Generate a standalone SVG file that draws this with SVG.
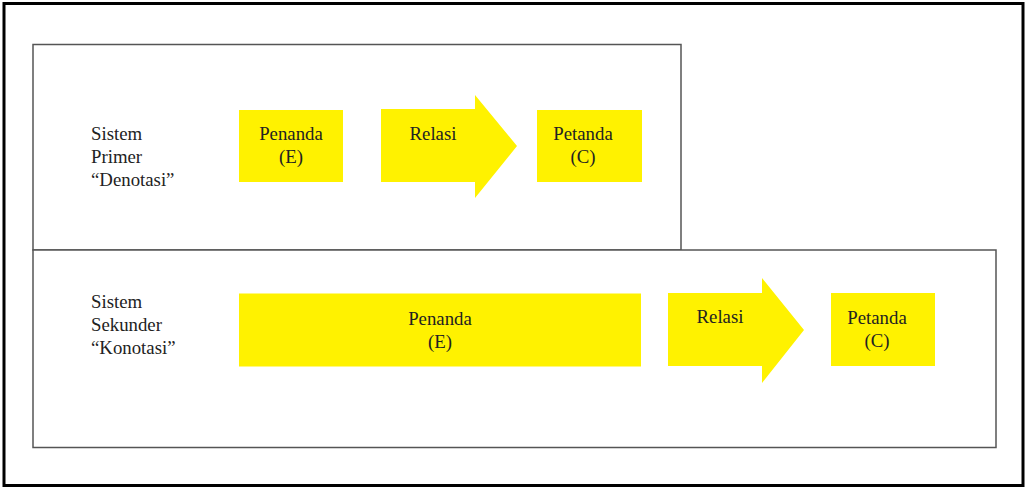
<svg xmlns="http://www.w3.org/2000/svg" width="1027" height="489" viewBox="0 0 1027 489">
  <style>
    .frame { fill: #ffffff; stroke: #000000; stroke-width: 3; }
    .panel { fill: #ffffff; stroke: #555555; stroke-width: 1.5; }
    .shape { fill: #fff200; stroke: none; }
    text { font-family: "Liberation Serif", "DejaVu Serif", serif; font-size: 18.8px; fill: #222222; }
    .c { text-anchor: middle; }
  </style>
  <rect class="frame" x="4" y="3.5" width="1019" height="482"/>

  <!-- primary system panel -->
  <g id="panel-primer">
    <rect class="panel" x="33" y="44.5" width="648" height="205.5"/>
    <text x="91" y="140">Sistem</text>
    <text x="91" y="163">Primer</text>
    <text x="91" y="186">“Denotasi”</text>
  </g>

  <!-- secondary system panel -->
  <g id="panel-sekunder">
    <rect class="panel" x="33" y="250" width="963" height="197.5"/>
    <text x="91" y="308">Sistem</text>
    <text x="91" y="331">Sekunder</text>
    <text x="91" y="354">“Konotasi”</text>
  </g>

  <g id="penanda-1">
    <rect class="shape" x="239" y="110" width="104" height="72"/>
    <text class="c" x="291" y="140">Penanda</text>
    <text class="c" x="291" y="163">(E)</text>
  </g>
  <g id="relasi-1">
    <polygon class="shape" points="381,109 475,109 475,95 517,146 475,198 475,182 381,182"/>
    <text class="c" x="433" y="140">Relasi</text>
  </g>
  <g id="petanda-1">
    <rect class="shape" x="537" y="110" width="105" height="72"/>
    <text class="c" x="583" y="140">Petanda</text>
    <text class="c" x="583" y="163">(C)</text>
  </g>

  <g id="penanda-2">
    <rect class="shape" x="239" y="293.5" width="402" height="73"/>
    <text class="c" x="440" y="325">Penanda</text>
    <text class="c" x="440" y="348">(E)</text>
  </g>
  <g id="relasi-2">
    <polygon class="shape" points="668,293 762,293 762,278 804,330 762,383 762,366 668,366"/>
    <text class="c" x="720" y="323">Relasi</text>
  </g>
  <g id="petanda-2">
    <rect class="shape" x="831" y="293" width="104" height="73"/>
    <text class="c" x="877" y="324">Petanda</text>
    <text class="c" x="877" y="347">(C)</text>
  </g>

  <g id="connectors"></g>
</svg>
